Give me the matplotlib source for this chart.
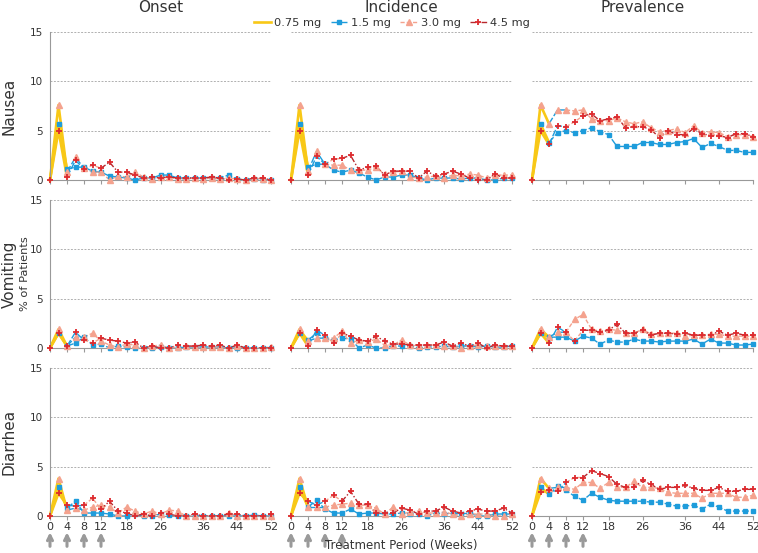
import numpy as np
import matplotlib
matplotlib.use('Agg')
import matplotlib.pyplot as plt
from matplotlib.lines import Line2D

weeks = [0, 2, 4, 6, 8, 10, 12, 14, 16, 18, 20, 22, 24, 26, 28, 30, 32, 34, 36, 38, 40, 42, 44, 46, 48, 50, 52]
xticks = [0, 4, 8, 12, 18, 26, 36, 44, 52]
arrow_weeks = [0, 4, 8, 12]
columns = ['Onset', 'Incidence', 'Prevalence']
rows = ['Nausea', 'Vomiting', 'Diarrhea']
doses = ['0.75 mg', '1.5 mg', '3.0 mg', '4.5 mg']

# nausea
nau_on_15 = [0, 5.7, 1.1, 1.3, 1.3, 0.9, 0.8, 0.4, 0.3, 0.2, 0.0, 0.2, 0.2, 0.5, 0.5, 0.2, 0.2, 0.2, 0.2, 0.2, 0.2, 0.5, 0.1, 0.0, 0.1, 0.0, 0.0]
nau_on_30 = [0, 7.6, 0.8, 2.3, 1.2, 0.8, 0.8, 0.0, 0.4, 0.3, 0.8, 0.3, 0.1, 0.3, 0.3, 0.1, 0.1, 0.2, 0.1, 0.2, 0.1, 0.2, 0.1, 0.0, 0.2, 0.1, 0.0]
nau_on_45 = [0, 5.0, 0.3, 2.0, 1.1, 1.5, 1.2, 1.8, 0.8, 0.8, 0.5, 0.2, 0.3, 0.2, 0.3, 0.2, 0.2, 0.2, 0.2, 0.3, 0.2, 0.0, 0.1, 0.0, 0.2, 0.2, 0.0]
nau_in_15 = [0, 5.7, 1.3, 1.6, 1.6, 1.0, 0.8, 1.0, 0.7, 0.3, 0.0, 0.3, 0.3, 0.5, 0.5, 0.2, 0.0, 0.2, 0.2, 0.2, 0.1, 0.2, 0.2, 0.0, 0.0, 0.2, 0.2]
nau_in_30 = [0, 7.6, 0.9, 2.9, 1.6, 1.5, 1.5, 1.0, 1.0, 1.0, 1.3, 0.6, 0.8, 0.9, 0.3, 0.2, 0.3, 0.4, 0.2, 0.5, 0.4, 0.6, 0.5, 0.2, 0.5, 0.5, 0.5]
nau_in_45 = [0, 5.0, 0.5, 2.4, 1.6, 2.1, 2.2, 2.5, 1.0, 1.3, 1.4, 0.5, 0.9, 0.9, 0.9, 0.2, 0.9, 0.4, 0.6, 0.9, 0.6, 0.2, 0.0, 0.0, 0.6, 0.2, 0.2]
nau_pr_15 = [0, 5.7, 3.8, 4.8, 5.0, 4.8, 5.0, 5.3, 4.9, 4.6, 3.4, 3.4, 3.4, 3.8, 3.8, 3.6, 3.6, 3.8, 3.9, 4.2, 3.3, 3.7, 3.4, 3.0, 3.0, 2.8, 2.8]
nau_pr_30 = [0, 7.6, 5.7, 7.1, 7.1, 7.0, 7.1, 6.2, 6.0, 6.0, 6.3, 5.9, 5.7, 5.9, 5.3, 4.9, 5.0, 5.2, 4.8, 5.5, 4.8, 4.9, 4.8, 4.4, 4.6, 4.6, 4.4]
nau_pr_45 = [0, 5.0, 3.6, 5.5, 5.4, 5.9, 6.5, 6.7, 6.0, 6.2, 6.4, 5.3, 5.4, 5.4, 5.1, 4.3, 5.0, 4.6, 4.6, 5.2, 4.7, 4.5, 4.5, 4.3, 4.7, 4.7, 4.4]

# vomiting
vom_on_15 = [0, 1.5, 0.2, 0.5, 1.1, 0.3, 0.4, 0.0, 0.2, 0.1, 0.0, 0.0, 0.0, 0.1, 0.0, 0.0, 0.1, 0.1, 0.1, 0.1, 0.1, 0.0, 0.0, 0.0, 0.0, 0.0, 0.0]
vom_on_30 = [0, 1.9, 0.2, 1.1, 1.1, 1.5, 0.7, 0.3, 0.1, 0.4, 0.3, 0.0, 0.2, 0.3, 0.0, 0.1, 0.2, 0.1, 0.1, 0.1, 0.1, 0.0, 0.2, 0.0, 0.0, 0.0, 0.1]
vom_on_45 = [0, 1.5, 0.2, 1.6, 0.8, 0.5, 1.0, 0.8, 0.7, 0.5, 0.6, 0.0, 0.2, 0.0, 0.0, 0.3, 0.2, 0.2, 0.3, 0.2, 0.3, 0.0, 0.3, 0.0, 0.0, 0.0, 0.0]
vom_in_15 = [0, 1.5, 0.8, 1.5, 1.0, 0.8, 1.0, 0.9, 0.0, 0.3, 0.0, 0.0, 0.2, 0.2, 0.2, 0.0, 0.1, 0.1, 0.2, 0.1, 0.2, 0.2, 0.1, 0.2, 0.1, 0.1, 0.2]
vom_in_30 = [0, 1.9, 0.7, 1.0, 1.0, 1.0, 1.7, 0.5, 0.8, 0.6, 0.9, 0.3, 0.3, 0.8, 0.3, 0.2, 0.3, 0.3, 0.2, 0.2, 0.0, 0.2, 0.3, 0.2, 0.2, 0.2, 0.2]
vom_in_45 = [0, 1.5, 0.2, 1.8, 1.3, 0.5, 1.5, 1.2, 0.8, 0.7, 1.2, 0.7, 0.4, 0.4, 0.3, 0.3, 0.3, 0.3, 0.6, 0.2, 0.5, 0.2, 0.5, 0.0, 0.3, 0.2, 0.2]
vom_pr_15 = [0, 1.5, 1.1, 1.1, 1.1, 0.7, 1.2, 1.0, 0.4, 0.8, 0.6, 0.6, 0.9, 0.7, 0.7, 0.6, 0.7, 0.7, 0.7, 0.9, 0.4, 0.9, 0.5, 0.5, 0.3, 0.3, 0.4]
vom_pr_30 = [0, 1.9, 1.1, 1.6, 1.6, 2.9, 3.4, 1.9, 1.7, 1.9, 1.8, 1.5, 1.5, 1.9, 1.4, 1.5, 1.5, 1.5, 1.2, 1.3, 1.3, 1.4, 1.4, 1.2, 1.2, 1.2, 1.2]
vom_pr_45 = [0, 1.5, 0.5, 2.1, 1.6, 0.7, 1.8, 1.8, 1.6, 1.8, 2.4, 1.5, 1.5, 1.8, 1.3, 1.5, 1.5, 1.4, 1.5, 1.3, 1.3, 1.3, 1.7, 1.3, 1.5, 1.3, 1.3]

# diarrhea
dia_on_15 = [0, 2.9, 0.8, 1.5, 0.3, 0.3, 0.3, 0.2, 0.0, 0.0, 0.2, 0.0, 0.0, 0.2, 0.1, 0.0, 0.0, 0.0, 0.0, 0.0, 0.0, 0.0, 0.0, 0.0, 0.1, 0.0, 0.0]
dia_on_30 = [0, 3.8, 0.6, 0.8, 0.6, 0.9, 1.1, 0.9, 0.3, 0.9, 0.5, 0.2, 0.5, 0.2, 0.6, 0.5, 0.0, 0.0, 0.0, 0.0, 0.0, 0.3, 0.0, 0.0, 0.0, 0.0, 0.0]
dia_on_45 = [0, 2.3, 1.1, 1.0, 1.1, 1.8, 0.7, 1.5, 0.5, 0.3, 0.0, 0.2, 0.0, 0.3, 0.2, 0.0, 0.0, 0.2, 0.0, 0.0, 0.0, 0.2, 0.2, 0.0, 0.0, 0.0, 0.2]
dia_in_15 = [0, 2.9, 0.9, 1.6, 0.7, 0.3, 0.3, 0.7, 0.2, 0.3, 0.3, 0.2, 0.2, 0.3, 0.2, 0.2, 0.0, 0.3, 0.2, 0.3, 0.2, 0.3, 0.0, 0.0, 0.2, 0.2, 0.2]
dia_in_30 = [0, 3.8, 0.9, 0.9, 0.9, 1.1, 1.2, 1.3, 1.1, 1.1, 0.8, 0.2, 0.9, 0.2, 0.4, 0.5, 0.3, 0.3, 0.4, 0.2, 0.0, 0.2, 0.2, 0.2, 0.0, 0.0, 0.2]
dia_in_45 = [0, 2.3, 1.5, 1.1, 1.5, 2.1, 1.5, 2.5, 1.2, 1.2, 0.3, 0.3, 0.3, 0.8, 0.6, 0.2, 0.5, 0.5, 0.9, 0.5, 0.3, 0.5, 0.7, 0.5, 0.5, 0.8, 0.3]
dia_pr_15 = [0, 2.9, 2.2, 3.0, 2.6, 2.0, 1.6, 2.3, 1.9, 1.6, 1.5, 1.5, 1.5, 1.5, 1.4, 1.4, 1.2, 1.0, 1.0, 1.1, 0.7, 1.2, 0.9, 0.5, 0.5, 0.5, 0.5]
dia_pr_30 = [0, 3.8, 2.8, 2.9, 2.9, 2.7, 3.4, 3.4, 2.8, 3.4, 2.9, 2.9, 3.5, 2.9, 2.9, 2.8, 2.4, 2.3, 2.3, 2.3, 1.8, 2.3, 2.3, 2.3, 1.9, 1.9, 2.1]
dia_pr_45 = [0, 2.4, 2.6, 2.5, 3.4, 3.9, 3.9, 4.6, 4.3, 4.0, 3.2, 2.9, 2.9, 3.6, 3.2, 2.7, 2.9, 2.9, 3.1, 2.8, 2.6, 2.6, 2.9, 2.5, 2.5, 2.7, 2.7]

data = [
    [(nau_on_15, nau_on_30, nau_on_45), (nau_in_15, nau_in_30, nau_in_45), (nau_pr_15, nau_pr_30, nau_pr_45)],
    [(vom_on_15, vom_on_30, vom_on_45), (vom_in_15, vom_in_30, vom_in_45), (vom_pr_15, vom_pr_30, vom_pr_45)],
    [(dia_on_15, dia_on_30, dia_on_45), (dia_in_15, dia_in_30, dia_in_45), (dia_pr_15, dia_pr_30, dia_pr_45)],
]

# line style per dose
YEL, BLU, SAL, RED = '#F8C817', '#1E9CDB', '#F4A28E', '#B8272D'
line_style = {
    0: dict(color=YEL, lw=1.9, ls='-'),
    1: dict(color=BLU, lw=1.0, ls=(0, (5, 1.5))),
    2: dict(color=SAL, lw=1.0, ls=(0, (3, 1.5))),
    3: dict(color=RED, lw=1.0, ls=(0, (4, 1.5, 1, 1.5))),
}
# dose escalation: (start index, end index, dose) for each maintenance group
segments = [
    [(0, 2, 0), (2, 26, 1)],
    [(0, 2, 0), (2, 4, 1), (4, 26, 2)],
    [(0, 2, 0), (2, 4, 1), (4, 6, 2), (6, 26, 3)],
]
markers = [
    dict(marker='s', ms=3.0, color=BLU, mec=BLU),
    dict(marker='^', ms=4.0, color=SAL, mec=SAL),
    dict(marker='+', ms=5.0, mew=1.3, color='#DD2A2E'),
]

W, H = 758, 553
fig = plt.figure(figsize=(W / 100, H / 100), dpi=100)
lefts = [50, 291, 532]
tops = [32, 200, 368]
aw, ah = 221, 148

x = np.array(weeks)
for r in range(3):
    for c in range(3):
        ax = fig.add_axes([lefts[c] / W, 1 - (tops[r] + ah) / H, aw / W, ah / H])
        ax.set_xlim(0, 52)
        ax.set_ylim(0, 15)
        for g in range(3):
            y = np.array(data[r][c][g])
            for s, e, d in segments[g]:
                ax.plot(x[s:e + 1], y[s:e + 1], zorder=2, clip_on=False, **line_style[d])
        for g in range(3):
            y = np.array(data[r][c][g])
            start = 0 if g == 2 else 1
            ax.plot(x[start:], y[start:], ls='none', zorder=3, clip_on=False, **markers[g])
        for v in [5, 10, 15]:
            ax.axhline(v, color='#b0b0b0', lw=0.7, ls=(0, (2, 1.5)), zorder=1)
        for sp in ['top', 'right']:
            ax.spines[sp].set_visible(False)
        ax.spines['bottom'].set_color('#999999')
        ax.spines['bottom'].set_linewidth(0.8)
        if c == 0:
            ax.spines['left'].set_color('#999999')
            ax.spines['left'].set_linewidth(0.8)
            ax.set_yticks([0, 5, 10, 15])
            ax.tick_params(axis='y', length=0, labelsize=7.5, labelcolor='#333333', pad=5)
        else:
            ax.spines['left'].set_visible(False)
            ax.set_yticks([])
        ax.set_xticks(xticks)
        ax.tick_params(axis='x', length=3, color='#999999', labelsize=8, labelcolor='#333333', pad=1)
        if r < 2:
            ax.set_xticklabels([])
        else:
            for aw_ in arrow_weeks:
                ax.annotate('', xy=(aw_, -0.11), xytext=(aw_, -0.205),
                            xycoords=('data', 'axes fraction'),
                            arrowprops=dict(arrowstyle='->', color='#9a9a9a', lw=2.2,
                                            mutation_scale=9, shrinkA=0, shrinkB=0),
                            annotation_clip=False)

for c, name in enumerate(columns):
    fig.text((lefts[c] + aw / 2) / W, 1 - 7 / H, name, ha='center', va='center',
             fontsize=11, color='#333333')
for r, name in enumerate(rows):
    fig.text(9 / W, 1 - (tops[r] + ah / 2) / H, name, ha='center', va='center',
             rotation=90, fontsize=11, color='#333333')
fig.text(25 / W, 1 - 274 / H, '% of Patients', ha='center', va='center', rotation=90,
         fontsize=8.2, color='#333333')
fig.text(401 / W, 1 - 545 / H, 'Treatment Period (Weeks)', ha='center', va='center',
         fontsize=8.5, color='#333333')

handles = [
    Line2D([], [], **line_style[0]),
    Line2D([], [], marker='s', ms=3.0, mec=BLU, **line_style[1]),
    Line2D([], [], marker='^', ms=4.0, mec=SAL, **line_style[2]),
    Line2D([], [], marker='+', ms=5.0, mew=1.3, mec='#DD2A2E', **line_style[3]),
]
fig.legend(handles, doses, loc='center', bbox_to_anchor=(392 / W, 1 - 23 / H), ncol=4,
           frameon=False, fontsize=8.2, handlelength=1.5, columnspacing=0.8,
           handletextpad=0.3, labelcolor='#333333')

fig.savefig('out.png', dpi=100)
